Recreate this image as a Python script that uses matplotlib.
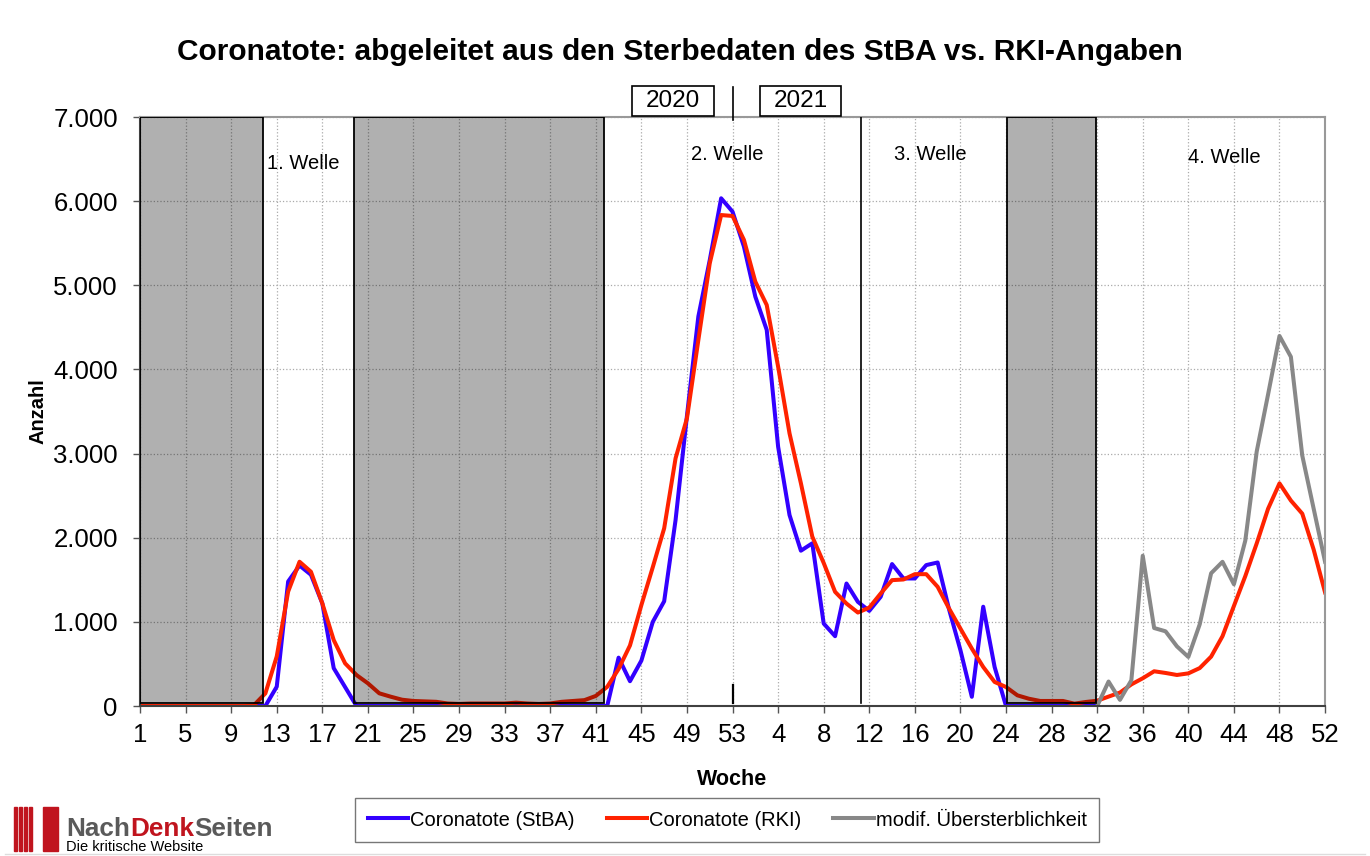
import matplotlib
matplotlib.use("Agg")
import numpy as np
import matplotlib.pyplot as plt
from matplotlib.patches import Rectangle
from matplotlib.ticker import FuncFormatter

plt.rcParams['font.family'] = ['Liberation Sans', 'DejaVu Sans']

# Coronatote je Kalenderwoche (2020: KW 1-53, 2021: KW 1-52)
stba_2020 = [0, 0, 0, 0, 0, 0, 0, 0, 0, 0, 0, 0, 230, 1480, 1670, 1560, 1220, 450, 225,
             0, 0, 0, 0, 0, 0, 0, 0, 0, 0, 0, 0, 0, 0, 0, 0, 0, 0, 0, 0, 0, 0, 0,
             575, 295, 540, 1000, 1245, 2210, 3450, 4630, 5300, 6034, 5875]
stba_2021 = [5460, 4865, 4470, 3082, 2270, 1846, 1934, 980, 830, 1456, 1238, 1131, 1298,
             1687, 1516, 1516, 1675, 1706, 1150, 663, 110, 1180, 464,
             0, 0, 0, 0, 0, 0, 0, 0, 0]  # bis KW 32
rki_2020 = [0, 0, 0, 0, 0, 0, 0, 0, 0, 0, 10, 150, 590, 1360, 1715, 1596, 1220, 784, 507,
            368, 270, 151, 111, 75, 60, 55, 50, 30, 25, 30, 30, 30, 30, 40, 30, 25, 30,
            50, 60, 70, 120, 228, 440, 720, 1200, 1650, 2112, 2944, 3420, 4350, 5262,
            5835, 5824]
rki_2021 = [5540, 5043, 4766, 4033, 3241, 2647, 2013, 1700, 1357, 1218, 1111, 1170, 1337,
            1496, 1504, 1567, 1567, 1417, 1159, 920, 683, 464, 286, 226, 127, 87, 60, 60,
            60, 28, 48, 63, 112, 160, 257, 330, 413, 393, 369, 388, 451, 587, 830, 1189,
            1544, 1932, 2345, 2646, 2442, 2286, 1859, 1350]
uebersterb_2021 = [0, 291, 73, 306, 1786, 927, 888, 709, 583, 971, 1578, 1714, 1447,
                   1966, 3024, 3704, 4398, 4150, 2976, 2345, 1714]  # ab KW 32

tick_labels = ["1", "5", "9", "13", "17", "21", "25", "29", "33", "37", "41", "45", "49", "53",
               "4", "8", "12", "16", "20", "24", "28", "32", "36", "40", "44", "48", "52"]
wave_labels = ["1. Welle", "2. Welle", "3. Welle", "4. Welle"]
wave_pos = [(14.3, 6450), (51.5, 6560), (69.4, 6560), (95.2, 6520)]
shade_spans = [(0, 10.75), (18.8, 40.75), (76.1, 83.9)]

n = len(stba_2020) + len(rki_2021)
x = np.arange(n)
stba = np.full(n, np.nan)
stba[:len(stba_2020) + len(stba_2021)] = stba_2020 + stba_2021
rki = np.array(rki_2020 + rki_2021, dtype=float)
ueber = np.full(n, np.nan)
ueber[n - len(uebersterb_2021):] = uebersterb_2021
year_break = len(stba_2020) - 1

fig = plt.figure(figsize=(13.7, 8.56), dpi=100)
ax = fig.add_axes([0.1022, 0.1752, 0.865, 0.6881])

ax.plot(x, stba, color="#3300ff", lw=2.9, label="Coronatote (StBA)", zorder=2)
ax.plot(x, rki, color="#ff2200", lw=2.9, label="Coronatote (RKI)", zorder=2.1)
ax.plot(x, ueber, color="#888888", lw=2.9, label="modif. Übersterblichkeit", zorder=2.2)

for x0, x1 in shade_spans:
    ax.add_patch(Rectangle((x0, 40), x1 - x0, 7000 - 40, facecolor=(0, 0, 0, 0.31),
                           edgecolor="black", lw=1.3, zorder=3))

# Trennlinie 3. Welle und Jahreswechsel
ax.plot([63.3, 63.3], [35, 7000], color="black", lw=1.2, zorder=3)
ax.plot([year_break, year_break], [40, 250], color="black", lw=1.6, zorder=3)
ax.plot([year_break, year_break], [6960, 7360], color="black", lw=1.2, zorder=3, clip_on=False)

for lab, (px, py) in zip(wave_labels, wave_pos):
    ax.text(px, py, lab, ha="center", va="center", fontsize=14.5, zorder=4)

for lab, (x0, x1) in zip(["2020", "2021"], [(43.2, 50.4), (54.4, 61.5)]):
    ax.add_patch(Rectangle((x0, 7012), x1 - x0, 355, facecolor="white", edgecolor="black",
                           lw=1.2, clip_on=False, zorder=4))
    ax.text((x0 + x1) / 2, 7190, lab, ha="center", va="center", fontsize=17.5, zorder=5,
            clip_on=False)

ax.set_xlim(0, n - 1)
ax.set_ylim(0, 7000)
ax.set_xticks(np.arange(0, n, 4))
ax.set_xticklabels(tick_labels)
ax.set_yticks(np.arange(0, 7001, 1000))
ax.yaxis.set_major_formatter(FuncFormatter(lambda v, p: f"{int(v):,}".replace(",", ".")))
ax.tick_params(labelsize=18.5, length=5, width=1, color="#555555", direction="out")
ax.tick_params(axis="y", pad=11)
ax.tick_params(axis="x", pad=7)
ax.grid(True, color="#aaaaaa", ls=":", lw=0.9, zorder=0)
for s in ["left", "bottom"]:
    ax.spines[s].set_color("#404040")
    ax.spines[s].set_linewidth(1.5)
for s in ["top", "right"]:
    ax.spines[s].set_color("#999999")
    ax.spines[s].set_linewidth(1.5)

ax.set_xlabel("Woche", fontsize=15.5, fontweight="bold", labelpad=16)
ax.set_ylabel("Anzahl", fontsize=14.5, fontweight="bold", labelpad=4)
fig.text(0.496, 0.939, "Coronatote: abgeleitet aus den Sterbedaten des StBA vs. RKI-Angaben",
         ha="center", va="center", fontsize=21.5, fontweight="bold")

leg = fig.legend(loc="center", bbox_to_anchor=(0.5307, 1 - 820 / 856), ncol=3,
                 fontsize=14.5, frameon=True, fancybox=False, edgecolor="#555555",
                 handlelength=2.0, handletextpad=0.1, columnspacing=1.6,
                 borderpad=0.6)
leg.get_frame().set_linewidth(1.0)

# Logo NachDenkSeiten
for bx in [14, 19, 24, 29]:
    fig.patches.append(Rectangle((bx / 1370, 1 - 851 / 856), 2.6 / 1370, 44 / 856,
                                 transform=fig.transFigure, color="#c0141e"))
fig.patches.append(Rectangle((43 / 1370, 1 - 851 / 856), 15 / 1370, 44 / 856,
                             transform=fig.transFigure, color="#c0141e"))
t = fig.text(66 / 1370, 1 - 829 / 856, "Nach", fontsize=18.8, fontweight="bold",
             color="#5a5a5a", va="center")
fig.canvas.draw()
r = fig.canvas.get_renderer()
bb = t.get_window_extent(r)
t2 = fig.text(bb.x1 / 1370, 1 - 829 / 856, "Denk", fontsize=18.8, fontweight="bold",
              color="#c0141e", va="center")
bb2 = t2.get_window_extent(r)
fig.text(bb2.x1 / 1370, 1 - 829 / 856, "Seiten", fontsize=18.8, fontweight="bold",
         color="#5a5a5a", va="center")
fig.text(66 / 1370, 1 - 847 / 856, "Die kritische Website", fontsize=10.5,
         color="black", va="center")
fig.add_artist(plt.Line2D([5 / 1370, 1365 / 1370], [1 - 854 / 856] * 2, color="#dddddd", lw=1))

plt.savefig("out.png", dpi=100)
